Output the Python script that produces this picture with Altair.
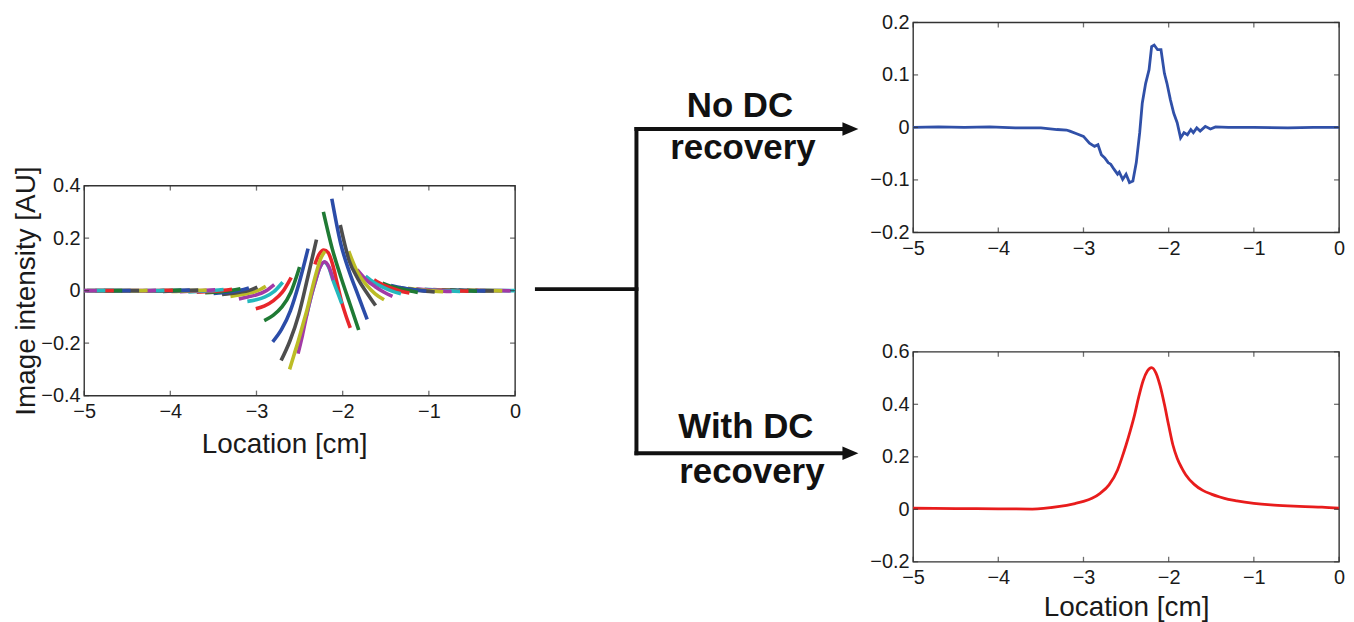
import altair as alt
import pandas as pd

FONT = "Liberation Sans"
FRAME = "#333333"
TXT = "#1a1a1a"

# ---------------- left panel: overlapping windowed segments ----------------
# MATLAB 'lines' colour cycle: b, g, r, c, m, y, k
palette = ["#2b4ca8", "#1f7a34", "#e8262b", "#24b8bd", "#a23aa6", "#bcbc26", "#4d4d4d"]
seg_len = 0.41
seg_end = [0.0, -0.05, -0.148, -0.246, -0.344, -0.442, -0.54, -0.638, -0.736, -0.834,
           -0.932, -1.03, -1.128, -1.226, -1.324, -1.422, -1.52, -1.618, -1.716, -1.814,
           -1.912, -2.01, -2.108, -2.206, -2.304, -2.402, -2.5, -2.598, -2.696, -2.794,
           -2.892, -2.99, -3.088, -3.186, -3.284, -3.382, -3.48, -3.578, -3.676, -3.774,
           -3.872, -3.97, -4.068, -4.166, -4.264, -4.362, -4.46, -4.558, -4.656, -4.754, -4.852]
seg_y = [
    [0.001, 0.001, 0.0, 0.0, 0.0],
    [0.002, 0.001, 0.0, 0.0, -0.001],
    [0.002, 0.001, 0.0, 0.0, -0.001],
    [0.002, 0.001, 0.0, -0.001, -0.001],
    [0.003, 0.001, 0.0, -0.001, -0.001],
    [0.003, 0.002, 0.0, -0.001, -0.002],
    [0.004, 0.002, 0.0, -0.001, -0.002],
    [0.005, 0.003, 0.0, -0.001, -0.003],
    [0.007, 0.004, 0.001, -0.002, -0.003],
    [0.009, 0.005, 0.001, -0.002, -0.004],
    [0.012, 0.006, 0.002, -0.002, -0.005],
    [0.02, 0.012, 0.006, 0.002, -0.002],
    [0.028, 0.016, 0.007, 0.0, -0.007],
    [0.041, 0.022, 0.009, -0.002, -0.009],
    [0.055, 0.03, 0.012, -0.002, -0.012],
    [0.08, 0.042, 0.016, -0.005, -0.022],
    [0.15, 0.07, 0.022, -0.012, -0.035],
    [0.25, 0.115, 0.045, -0.008, -0.057],
    [0.35, 0.18, 0.07, -0.02, -0.11],
    [0.30, 0.16, 0.05, -0.05, -0.15],
    [0.10, 0.14, 0.155, 0.145, 0.10, 0.03, -0.04, -0.095, -0.142],
    [-0.095, -0.025, 0.035, 0.087, 0.108, 0.09, 0.04, -0.005, -0.05],
    [-0.24, -0.17, -0.09, -0.02, 0.04, 0.09, 0.11, 0.09, 0.04],
    [-0.30, -0.245, -0.19, -0.13, -0.07, 0.0, 0.065, 0.12, 0.15],
    [-0.266, -0.191, -0.091, 0.049, 0.194],
    [-0.195, -0.148, -0.077, 0.03, 0.16],
    [-0.114, -0.094, -0.062, -0.007, 0.09],
    [-0.069, -0.058, -0.038, -0.006, 0.05],
    [-0.041, -0.035, -0.024, -0.004, 0.032],
    [-0.032, -0.024, -0.016, -0.002, 0.023],
    [-0.022, -0.017, -0.01, -0.001, 0.017],
    [-0.015, -0.011, -0.006, 0.0, 0.013],
    [-0.011, -0.008, -0.004, 0.001, 0.01],
    [-0.008, -0.006, -0.003, 0.001, 0.007],
    [-0.006, -0.004, -0.002, 0.001, 0.005],
    [-0.005, -0.003, -0.001, 0.001, 0.004],
    [-0.004, -0.002, -0.001, 0.001, 0.003],
    [-0.003, -0.002, 0.0, 0.001, 0.002],
    [-0.003, -0.001, 0.0, 0.001, 0.002],
    [-0.002, -0.001, 0.0, 0.001, 0.002],
    [-0.002, -0.001, 0.0, 0.001, 0.002],
    [-0.002, -0.001, 0.0, 0.001, 0.001],
    [-0.001, -0.001, 0.0, 0.0, 0.001],
    [-0.001, 0.0, 0.0, 0.0, 0.001],
    [-0.001, 0.0, 0.0, 0.0, 0.001],
    [0.0, 0.0, 0.0, 0.0, 0.0],
    [0.0, 0.0, 0.0, 0.0, 0.0],
    [0.0, 0.0, 0.0, 0.0, 0.0],
    [0.0, 0.0, 0.0, 0.0, 0.0],
    [0.0, 0.0, 0.0, 0.0, 0.0],
    [0.0, 0.0, 0.0, 0.0, 0.0],
]

# ---------------- top right: no DC recovery ----------------
blue_x = [-5, -4.7, -4.4, -4.1, -3.8, -3.5, -3.31, -3.2, -3.16, -3.08, -3.0, -2.93, -2.87,
          -2.83, -2.79, -2.75, -2.71, -2.68, -2.64, -2.6, -2.58, -2.54, -2.5, -2.46, -2.42,
          -2.38, -2.34, -2.31, -2.27, -2.23, -2.2, -2.17, -2.13, -2.09, -2.05, -2.02, -1.98,
          -1.94, -1.9, -1.86, -1.82, -1.78, -1.74, -1.71, -1.67, -1.63, -1.57, -1.51, -1.45,
          -1.3, -1.0, -0.6, -0.3, 0]
blue_y = [0.0, 0.001, 0.0, 0.001, -0.001, -0.001, -0.004, -0.005, -0.007, -0.012, -0.017,
          -0.03, -0.036, -0.033, -0.052, -0.058, -0.067, -0.07, -0.08, -0.089, -0.085, -0.099,
          -0.089, -0.105, -0.102, -0.067, -0.01, 0.046, 0.084, 0.11, 0.154, 0.157, 0.148,
          0.148, 0.103, 0.084, 0.053, 0.027, 0.009, -0.02, -0.01, -0.014, -0.004, -0.01,
          -0.001, -0.007, 0.002, -0.003, 0.001, 0.0, 0.0, -0.001, 0.0, 0.0]

# ---------------- bottom right: with DC recovery ----------------
red_x = [-5, -4.5, -4, -3.6, -3.3, -3.1, -3.0, -2.9, -2.8, -2.7, -2.6, -2.55, -2.5, -2.45,
         -2.4, -2.35, -2.3, -2.25, -2.2, -2.15, -2.1, -2.05, -2.0, -1.95, -1.9, -1.85, -1.8,
         -1.7, -1.6, -1.5, -1.4, -1.3, -1.2, -1.0, -0.8, -0.6, -0.4, -0.2, 0]
red_y = [0.004, 0.003, 0.002, 0.001, 0.01, 0.022, 0.03, 0.042, 0.062, 0.093, 0.15, 0.195,
         0.245, 0.30, 0.36, 0.43, 0.49, 0.527, 0.54, 0.52, 0.47, 0.40, 0.32, 0.245, 0.195,
         0.16, 0.132, 0.095, 0.072, 0.058, 0.047, 0.038, 0.032, 0.023, 0.017, 0.013, 0.01,
         0.008, 0.004]

# axis ticks
x_ticks = [-5, -4, -3, -2, -1, 0]
left_y_ticks = [-0.4, -0.2, 0, 0.2, 0.4]
top_y_ticks = [-0.2, -0.1, 0, 0.1, 0.2]
bot_y_ticks = [-0.2, 0, 0.2, 0.4, 0.6]

# ---------------- diagram (connector + labels) ----------------
conn_x1 = [535, 635, 635, 635]
conn_y1 = [288, 127, 127, 453]
conn_x2 = [635, 635, 850, 850]
conn_y2 = [288, 453, 127, 453]
head_x = [850, 850]
head_y = [127, 453]
label_text = ["No DC", "recovery", "With DC", "recovery"]
label_x = [739, 742, 745, 751]
label_y = [115, 157, 438, 483]

PH = 211


def axis(values, fmt, title=None, title_x=None, label_pad=6, title_pad=10, title_size=28):
    kw = dict(values=values, format=fmt, ticks=False, domain=False, grid=False,
              labelFontSize=20, labelColor=TXT, labelPadding=label_pad, labelFlush=False,
              labelOverlap=False, labelFont=FONT, titleFont=FONT, titleFontSize=title_size,
              titleFontWeight="normal", titleColor=TXT, titlePadding=title_pad, title=title)
    if title_x is not None:
        kw["titleX"] = title_x
    return alt.Axis(**kw)


def panel(line_layers, ydom, yticks, pw, xtitle=None, ytitle=None, title_x=None, xtitle_pad=9):
    X = alt.X("x:Q", scale=alt.Scale(domain=[-5, 0], nice=False, zero=False, padding=0),
              axis=axis(x_ticks, "d", xtitle, title_x, 6, xtitle_pad))
    Y = alt.Y("y:Q", scale=alt.Scale(domain=ydom, nice=False, zero=False, padding=0),
              axis=axis(yticks, ".1~f", ytitle, None, 4, 0))
    layers = [l(X, Y) for l in line_layers]
    tk = dict(size=5, thickness=1.3, color=FRAME)
    bot = pd.DataFrame({"x": x_ticks, "y": [ydom[0]] * len(x_ticks)})
    top = pd.DataFrame({"x": x_ticks, "y": [ydom[1]] * len(x_ticks)})
    lef = pd.DataFrame({"x": [-5] * len(yticks), "y": yticks})
    rig = pd.DataFrame({"x": [0] * len(yticks), "y": yticks})
    layers += [
        alt.Chart(bot).mark_tick(orient="vertical", yOffset=-2.5, **tk).encode(x=X, y=Y),
        alt.Chart(top).mark_tick(orient="vertical", yOffset=2.5, **tk).encode(x=X, y=Y),
        alt.Chart(lef).mark_tick(orient="horizontal", xOffset=2.5, **tk).encode(x=X, y=Y),
        alt.Chart(rig).mark_tick(orient="horizontal", xOffset=-2.5, **tk).encode(x=X, y=Y),
    ]
    return alt.layer(*layers).properties(
        width=pw, height=PH, view=alt.ViewBackground(stroke=FRAME, strokeWidth=1.4))


# left data
rows = []
for k, (e, ys) in enumerate(zip(seg_end, seg_y)):
    s = max(-5.0, e - seg_len)
    n = len(ys)
    for i, yv in enumerate(ys):
        rows.append({"seg": f"s{k:02d}", "x": s + (e - s) * i / (n - 1), "y": yv,
                     "c": palette[(k + 3) % 7]})
left_df = pd.DataFrame(rows)

left_chart = panel(
    [lambda X, Y: alt.Chart(left_df).mark_line(strokeWidth=3.6, interpolate="monotone").encode(
        x=X, y=Y, color=alt.Color("c:N", scale=None), detail="seg:N")],
    [-0.4, 0.4], left_y_ticks, 433, "Location [cm]", "Image intensity [AU]", title_x=201)

blue_df = pd.DataFrame({"x": blue_x, "y": blue_y})
top_chart = panel(
    [lambda X, Y: alt.Chart(blue_df).mark_line(strokeWidth=2.8, color="#3050a8").encode(x=X, y=Y)],
    [-0.2, 0.2], top_y_ticks, 428)

red_df = pd.DataFrame({"x": red_x, "y": red_y})
bot_chart = panel(
    [lambda X, Y: alt.Chart(red_df).mark_line(strokeWidth=2.8, color="#e81c1c",
                                              interpolate="monotone").encode(x=X, y=Y)],
    [-0.2, 0.6], bot_y_ticks, 428, "Location [cm]", xtitle_pad=6)

spacer = alt.Chart(pd.DataFrame({"x": [0]})).mark_point(opacity=0).encode(
    x=alt.X("x:Q", axis=None), y=alt.Y("x:Q", axis=None)
).properties(width=433, height=142, view=alt.ViewBackground(stroke="transparent"))

# diagram
DX = alt.Scale(domain=[522, 867.5], nice=False, zero=False, padding=0)
DY = alt.Scale(domain=[20, 520], nice=False, zero=False, reverse=True, padding=0)
conn_df = pd.DataFrame({"x": conn_x1, "y": conn_y1, "x2": conn_x2, "y2": conn_y2})
head_df = pd.DataFrame({"x": head_x, "y": head_y})
lab_df = pd.DataFrame({"x": label_x, "y": label_y, "t": label_text})

diagram = alt.layer(
    alt.Chart(conn_df).mark_rule(strokeWidth=4, color="#111111", strokeCap="square").encode(
        x=alt.X("x:Q", scale=DX, axis=None), y=alt.Y("y:Q", scale=DY, axis=None),
        x2="x2:Q", y2="y2:Q"),
    alt.Chart(head_df).mark_point(shape="M -1 -0.85 L 1 0 L -1 0.85 Z", size=256, filled=True,
                                  color="#111111", opacity=1).encode(
        x=alt.X("x:Q", scale=DX, axis=None), y=alt.Y("y:Q", scale=DY, axis=None)),
    alt.Chart(lab_df).mark_text(font=FONT, fontSize=35, fontWeight="bold", color="#111111",
                                align="center", baseline="alphabetic").encode(
        x=alt.X("x:Q", scale=DX, axis=None), y=alt.Y("y:Q", scale=DY, axis=None), text="t:N"),
).properties(width=345.5, height=500, view=alt.ViewBackground(stroke="transparent"))

left_col = alt.vconcat(spacer, left_chart, spacing=0)
right_col = alt.vconcat(top_chart, bot_chart, spacing=82)

chart = alt.hconcat(left_col, diagram, right_col, spacing=0).properties(
    padding={"left": 3.5, "top": 2, "right": 0, "bottom": 0}
).configure(font=FONT).configure_view(stroke="transparent")

chart.save("out.html", embed_options={"renderer": "svg", "actions": False})
